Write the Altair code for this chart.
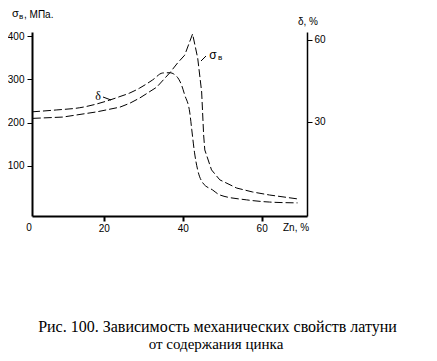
import altair as alt
import pandas as pd

# sigma_v (MPa) vs Zn content (%)
x_sigma = [2.0, 9.6, 18.2, 24.1, 26.6, 29.1, 33.4, 36.7, 38.7, 40.5, 42.5, 43.8, 44.8, 45.3, 45.6, 47.3, 49.4, 53.7, 57.7, 62.0, 69.1]
sigma = [210, 213, 225, 236, 245, 257, 282, 315, 338, 356, 405, 349, 271, 172, 137, 91, 68, 49, 40, 33, 24]

# delta (%) vs Zn content (%)
x_delta = [1.8, 8.1, 13.9, 21.5, 24.1, 26.6, 29.1, 32.4, 34.9, 36.7, 38.5, 39.7, 40.5, 41.8, 42.3, 43.0, 43.8, 45.1, 47.6, 49.4, 56.2, 62.0, 69.1]
delta = [33.7, 34.4, 35.2, 38.0, 39.3, 40.6, 42.4, 45.4, 47.9, 48.0, 46.6, 43.5, 39.9, 33.3, 27.1, 18.7, 12.4, 7.7, 5.1, 3.3, 1.5, 0.7, 0.4]

x_ticks = [20, 40, 60]
sigma_ticks = [100, 200, 300, 400]
delta_ticks = [30, 60]

caption1 = "Рис. 100. Зависимость механических свойств латуни"
caption2 = "от содержания цинка"

W, H = 275, 184
SANS = "Liberation Sans"
SERIF = "Liberation Serif, DejaVu Serif, serif"

df_s = pd.DataFrame({"zn": x_sigma, "v": sigma})
df_d = pd.DataFrame({"zn": x_delta, "v": delta})
one = pd.DataFrame({"a": [0]})

xscale = alt.Scale(domain=[1.8, 71.5], nice=False, zero=False)
xaxis = alt.Axis(values=x_ticks, title=None, grid=False, domainWidth=2, domainColor="black",
                 tickColor="black", tickWidth=2, tickSize=5, labelFont=SANS, labelFontSize=10,
                 labelColor="black", labelPadding=2)

sig_line = alt.Chart(df_s).mark_line(color="black", strokeWidth=1, strokeDash=[8, 3]).encode(
    x=alt.X("zn:Q", scale=xscale, axis=xaxis),
    y=alt.Y("v:Q", scale=alt.Scale(domain=[-15.5, 409.5], nice=False, zero=False),
            axis=alt.Axis(orient="left", values=sigma_ticks, title=None, grid=False, domainWidth=2,
                          domainColor="black", tickColor="black", tickSize=5, tickWidth=1,
                          labelFont=SANS, labelFontSize=10, labelColor="black", labelPadding=3)),
)

del_line = alt.Chart(df_d).mark_line(color="black", strokeWidth=1, strokeDash=[8, 3], interpolate="monotone").encode(
    x=alt.X("zn:Q", scale=xscale, axis=xaxis),
    y=alt.Y("v:Q", scale=alt.Scale(domain=[-4.4, 62.9], nice=False, zero=False),
            axis=alt.Axis(orient="right", values=delta_ticks, title=None, grid=False, domainWidth=1.5,
                          domainColor="black", tickColor="black", tickSize=5, tickWidth=1,
                          labelFont=SANS, labelFontSize=10, labelColor="black", labelPadding=2)),
)


def txt(t, x, y, size=10, font=SANS, align="left", baseline="middle"):
    return alt.Chart(one).mark_text(text=t, font=font, fontSize=size, align=align,
                                    baseline=baseline, color="black").encode(
        x=alt.value(x), y=alt.value(y))


def rule(x1, y1, x2, y2):
    return alt.Chart(one).mark_rule(color="black", strokeWidth=1).encode(
        x=alt.value(x1), y=alt.value(y1), x2=alt.value(x2), y2=alt.value(y2))


annots = [
    txt("σ", -20, -18, 11),
    txt("в", -13, -15, 8),
    txt(", МПа.", -8, -17, 10),
    txt("δ, %", 266, -10, 10),
    txt("Zn, %", 251, 196, 10),
    txt("0", -3, 196, 10, align="center"),
    txt("δ", 66, 64, 12, font=SERIF, align="center"),
    rule(71, 65, 79, 68),
    txt("σ", 181, 23, 12, align="center"),
    txt("в", 188, 26, 8, align="center"),
    rule(169, 29, 174, 24),
    txt(caption1, 185.5, 300, 16, font=SERIF, align="center", baseline="alphabetic"),
    txt(caption2, 184, 317, 15, font=SERIF, align="center", baseline="alphabetic"),
]

chart = alt.layer(sig_line, del_line, *annots).resolve_scale(y="independent").properties(
    width=W, height=H,
    padding={"left": 24, "top": 24, "right": 100, "bottom": 137},
    autosize=alt.AutoSizeParams(type="none"),
).configure_view(stroke="transparent")

chart.save("out.html", embed_options={"renderer": "svg", "actions": False})
